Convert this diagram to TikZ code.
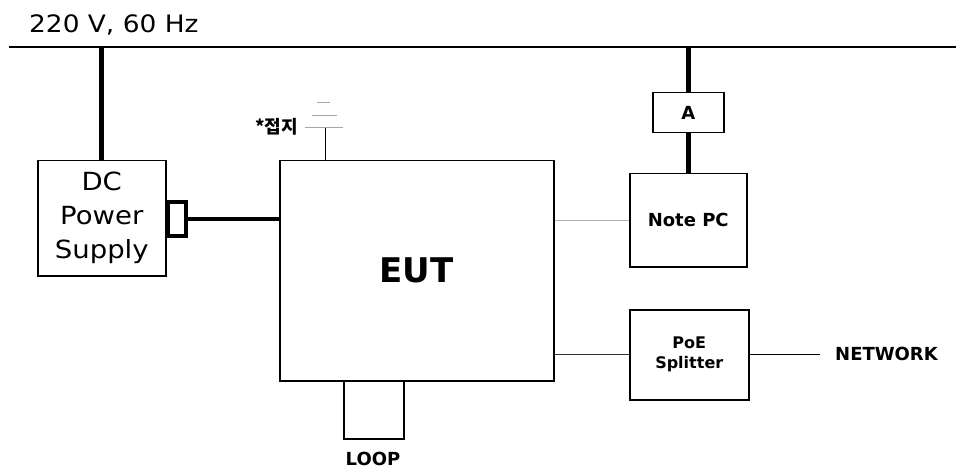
\documentclass[tikz,border=0pt]{standalone}
\usepackage{fontspec}
\setmainfont{DejaVu Sans}
\newfontfamily\widefont[FakeStretch=1.1]{DejaVu Sans}
\newfontfamily\krfont{Noto Sans CJK KR}
\begin{document}
\begin{tikzpicture}[x=1pt,y=-1pt,
  box/.style={draw, line width=1.5pt, inner sep=0pt, anchor=north west, align=center},
  lbl/.style={font=\bfseries\fontsize{18}{20}\selectfont},
  thickwire/.style={line width=5pt},
  thinwire/.style={line width=1.2pt},
  greywire/.style={line width=1.5pt, gray!60},
  gnd/.style={line width=1pt, gray!70}
]
\useasboundingbox (0,0) rectangle (956,468);

% mains
\node[anchor=west, inner sep=0pt, font=\widefont\fontsize{24}{26}\selectfont] (mains) at (29,25) {220 V, 60 Hz};
\coordinate (mainL) at (9,47);
\coordinate (mainR) at (956,47);
\draw[thinwire] (mainL) -- (mainR);

% DC power supply
\node[box, minimum width=128pt, minimum height=115pt, font=\widefont\fontsize{25}{34}\selectfont] (dc) at (37,160) {DC\\Power\\Supply};
\node[box, line width=3.5pt, minimum width=18pt, minimum height=34pt] (conn) at (166,200) {};

% EUT
\node[box, minimum width=274pt, minimum height=220pt, font=\bfseries\fontsize{34}{40}\selectfont] (eut) at (279,160) {EUT};

% LOOP
\node[box, minimum width=60pt, minimum height=58pt] (loop) at (343,380) {};
\node[lbl, inner sep=0pt] (looplbl) at (373,459) {LOOP};

% ground
\coordinate (g1L) at (305,128); \coordinate (g1R) at (343,128);
\coordinate (g2L) at (312,116); \coordinate (g2R) at (337,116);
\coordinate (g3L) at (317,103); \coordinate (g3R) at (330,103);
\coordinate (gtop) at (325,128);
\draw[gnd] (g1L) -- (g1R);
\draw[gnd] (g2L) -- (g2R);
\draw[gnd] (g3L) -- (g3R);
\draw[line width=1pt] (gtop) -- (gtop |- eut.north);
\node[anchor=east, inner sep=0pt, font=\krfont\bfseries\fontsize{18}{20}\selectfont] (gndlbl) at (298,127) {*접지};

% Note PC and A
\node[box, lbl, minimum width=71pt, minimum height=40pt] (amp) at (652,92) {A};
\node[box, lbl, minimum width=117pt, minimum height=93pt] (pc) at (629,173) {Note PC};
\draw[thickwire] (amp.north) -- (amp.north |- mainL);
\draw[thickwire] (amp.south) -- (pc.north);

% PoE splitter
\node[box, font=\bfseries\fontsize{16}{20}\selectfont, minimum width=119pt, minimum height=90pt] (poe) at (629,309) {PoE\\Splitter};
\node[lbl, anchor=west, inner sep=0pt] (net) at (835,354) {NETWORK};
\coordinate (netend) at (820,354);

% wires
\draw[thickwire] (dc.north) -- (dc.north |- mainL);
\draw[line width=4pt] (conn.east) -- (conn.east -| eut.west);
\draw[greywire] (pc.west) -- (pc.west -| eut.east);
\draw[thinwire, black!80] (poe.west) -- (poe.west -| eut.east);
\draw[thinwire] (poe.east) -- (poe.east -| netend);
\end{tikzpicture}
\end{document}
